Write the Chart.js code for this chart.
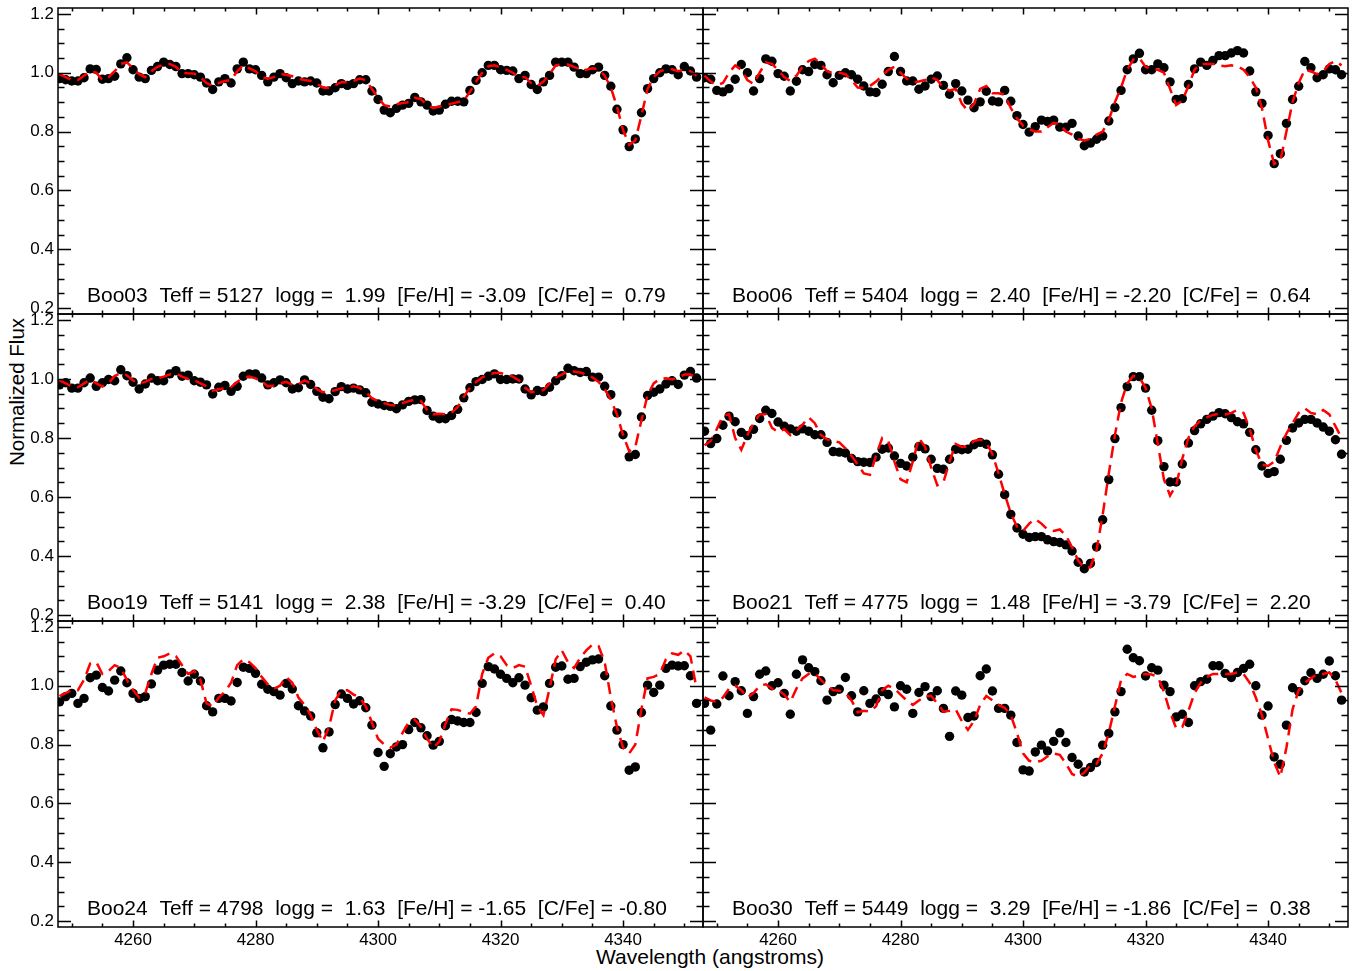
<!DOCTYPE html>
<html><head><meta charset="utf-8">
<script src="https://cdn.jsdelivr.net/npm/chart.js@4.4.1/dist/chart.umd.min.js"></script>
<style>
html,body{margin:0;padding:0;background:#fff;}
body{width:1367px;height:971px;position:relative;overflow:hidden;font-family:"Liberation Sans",Arial,sans-serif;}
canvas{position:absolute;}
#xtitle{position:absolute;left:710px;top:956px;transform:translate(-50%,-50%);font-size:21px;line-height:1;white-space:nowrap;color:#000;}
#ytitle{position:absolute;left:17px;top:392px;transform:translate(-50%,-50%) rotate(-90deg);font-size:20.5px;line-height:1;white-space:nowrap;color:#000;}
</style></head><body>
<div id="xtitle">Wavelength (angstroms)</div>
<div id="ytitle">Normalized Flux</div>
<script>
// ---------------- data ----------------
const wavelength = [
4248,4249,4250,4251,4252,4253,4254,4255,4256,4257,
4258,4259,4260,4261,4262,4263,4264,4265,4266,4267,
4268,4269,4270,4271,4272,4273,4274,4275,4276,4277,
4278,4279,4280,4281,4282,4283,4284,4285,4286,4287,
4288,4289,4290,4291,4292,4293,4294,4295,4296,4297,
4298,4299,4300,4301,4302,4303,4304,4305,4306,4307,
4308,4309,4310,4311,4312,4313,4314,4315,4316,4317,
4318,4319,4320,4321,4322,4323,4324,4325,4326,4327,
4328,4329,4330,4331,4332,4333,4334,4335,4336,4337,
4338,4339,4340,4341,4342,4343,4344,4345,4346,4347,
4348,4349,4350,4351,4352];

const xTickValues = [4260, 4280, 4300, 4320, 4340];
const xMinorTicks = [4250,4255,4260,4265,4270,4275,4280,4285,4290,4295,4300,4305,4310,4315,4320,4325,4330,4335,4340,4345,4350];
const yTickValues = [0.2, 0.4, 0.6, 0.8, 1.0, 1.2];
const yMinorTicks = [0.2,0.25,0.3,0.35,0.4,0.45,0.5,0.55,0.6,0.65,0.7,0.75,0.8,0.85,0.9,0.95,1.0,1.05,1.1,1.15,1.2];

const starNames = ["Boo03", "Boo06", "Boo19", "Boo21", "Boo24", "Boo30"];
const teffValues = [5127, 5404, 5141, 4775, 4798, 5449];
const loggValues = [1.99, 2.40, 2.38, 1.48, 1.63, 3.29];
const fehValues = [-3.09, -2.20, -3.29, -3.79, -1.65, -1.86];
const cfeValues = [0.79, 0.64, 0.40, 2.20, -0.80, 0.38];

const boo03Flux = [
0.980,0.976,0.972,0.972,0.983,1.013,1.011,0.978,0.980,0.988,
1.030,1.051,1.010,0.985,0.980,1.008,1.021,1.036,1.028,1.021,
0.997,0.997,0.993,0.985,0.965,0.943,0.969,0.980,0.965,1.013,
1.036,1.013,1.010,0.991,0.969,0.985,0.997,0.983,0.963,0.972,
0.969,0.972,0.965,0.938,0.938,0.949,0.963,0.957,0.963,0.976,
0.976,0.938,0.909,0.873,0.864,0.879,0.890,0.896,0.916,0.901,
0.890,0.870,0.873,0.893,0.903,0.903,0.901,0.940,0.974,1.000,
1.025,1.025,1.010,1.008,1.006,0.980,0.991,0.960,0.943,0.969,
0.991,1.036,1.036,1.036,1.019,0.997,0.997,1.010,1.019,0.991,
0.954,0.876,0.806,0.749,0.775,0.864,0.946,0.980,1.000,1.013,
1.010,0.993,1.021,1.006,0.985];
const boo03Model = [
0.995,0.985,0.975,0.975,0.990,1.005,1.000,0.975,0.985,1.005,
1.030,1.035,1.015,0.995,0.985,1.005,1.020,1.028,1.030,1.020,
1.000,0.998,0.997,0.985,0.965,0.955,0.965,0.972,0.975,1.005,
1.025,1.015,1.005,0.985,0.980,0.985,0.995,0.993,0.988,0.980,
0.975,0.972,0.962,0.950,0.948,0.958,0.968,0.968,0.972,0.980,
0.975,0.945,0.915,0.890,0.885,0.893,0.897,0.900,0.915,0.910,
0.890,0.880,0.885,0.890,0.895,0.900,0.905,0.935,0.970,1.000,
1.022,1.025,1.018,1.010,1.000,0.985,0.985,0.965,0.955,0.970,
0.995,1.025,1.028,1.028,1.020,1.012,1.010,1.015,1.012,0.990,
0.950,0.885,0.805,0.755,0.770,0.855,0.945,0.985,1.005,1.012,
1.012,1.005,1.010,1.005,0.990];

const boo06Flux = [
0.983,0.978,0.940,0.935,0.946,0.978,1.028,1.000,0.938,0.980,
1.047,1.039,0.997,0.988,0.938,0.971,1.010,1.004,1.028,1.025,
0.993,0.966,0.991,1.000,0.993,0.978,0.955,0.935,0.933,0.961,
1.004,1.055,1.004,0.972,0.972,0.944,0.955,0.978,0.989,0.957,
0.927,0.963,0.938,0.907,0.881,0.901,0.937,0.904,0.901,0.940,
0.903,0.854,0.824,0.798,0.817,0.839,0.834,0.839,0.815,0.815,
0.828,0.785,0.752,0.761,0.774,0.785,0.836,0.882,0.940,1.010,
1.047,1.066,1.010,1.010,1.030,1.017,0.969,0.909,0.912,0.960,
1.013,1.036,1.025,1.042,1.058,1.058,1.067,1.075,1.067,1.006,
0.935,0.896,0.787,0.691,0.725,0.828,0.909,0.954,1.038,1.017,
0.983,0.993,1.013,1.010,0.993];
const boo06Model = [
0.990,0.970,0.958,0.965,1.000,1.025,1.010,0.975,0.962,1.000,
1.035,1.030,1.010,0.985,0.972,0.990,1.020,1.040,1.048,1.030,
1.005,0.998,1.000,0.995,0.975,0.950,0.948,0.955,0.970,0.990,
1.010,1.020,1.000,0.980,0.968,0.970,0.975,0.985,0.975,0.948,
0.940,0.945,0.895,0.870,0.895,0.945,0.955,0.930,0.930,0.925,
0.880,0.845,0.820,0.808,0.800,0.800,0.815,0.830,0.825,0.800,
0.790,0.775,0.770,0.775,0.790,0.800,0.840,0.900,0.950,1.010,
1.045,1.050,1.020,1.012,1.010,1.000,0.945,0.890,0.905,0.955,
1.010,1.030,1.030,1.030,1.025,1.022,1.025,1.022,1.010,0.985,
0.950,0.880,0.770,0.690,0.700,0.800,0.900,0.965,1.010,1.005,
0.995,1.005,1.030,1.040,1.025];

const boo19Flux = [
0.980,0.987,0.969,0.969,0.987,1.003,0.975,0.987,0.998,0.994,
1.031,1.011,0.989,0.966,0.983,1.003,0.994,0.994,1.017,1.028,
1.009,1.013,0.994,0.989,0.980,0.949,0.972,0.978,0.958,0.975,
1.009,1.017,1.017,1.003,0.980,0.987,0.997,0.987,0.966,0.970,
0.997,0.981,0.958,0.938,0.933,0.957,0.974,0.966,0.969,0.963,
0.953,0.921,0.915,0.910,0.907,0.899,0.912,0.924,0.929,0.930,
0.893,0.874,0.865,0.865,0.876,0.897,0.936,0.970,0.991,0.998,
1.009,1.017,0.998,0.998,1.000,1.000,0.966,0.946,0.961,0.957,
0.972,0.994,1.011,1.036,1.028,1.022,1.025,1.006,1.006,0.975,
0.947,0.885,0.811,0.736,0.744,0.871,0.944,0.955,0.966,0.983,
0.994,0.981,1.013,1.025,1.003];
const boo19Model = [
0.995,0.985,0.975,0.972,0.985,0.998,0.985,0.975,0.985,1.010,
1.020,1.012,0.995,0.985,0.990,1.000,1.002,1.008,1.015,1.018,
1.008,1.000,0.995,0.985,0.975,0.960,0.965,0.968,0.972,0.990,
1.005,1.008,1.002,0.992,0.975,0.978,0.985,0.990,0.980,0.982,
0.995,0.985,0.965,0.955,0.958,0.962,0.968,0.970,0.975,0.970,
0.955,0.935,0.925,0.918,0.912,0.910,0.918,0.925,0.930,0.925,
0.895,0.880,0.882,0.880,0.885,0.905,0.940,0.970,0.990,1.005,
1.015,1.020,1.020,1.015,1.008,0.995,0.970,0.955,0.958,0.962,
0.985,1.005,1.015,1.025,1.025,1.022,1.015,1.005,0.990,0.965,
0.930,0.880,0.810,0.755,0.770,0.860,0.945,0.985,1.000,1.002,
0.998,1.005,1.015,1.015,1.005];

const boo21Flux = [
0.823,0.781,0.798,0.843,0.874,0.855,0.819,0.808,0.829,0.866,
0.894,0.883,0.854,0.840,0.831,0.823,0.831,0.823,0.811,0.811,
0.785,0.754,0.752,0.749,0.731,0.720,0.718,0.717,0.735,0.762,
0.766,0.739,0.714,0.705,0.735,0.771,0.763,0.728,0.697,0.694,
0.728,0.762,0.760,0.762,0.777,0.785,0.779,0.743,0.677,0.608,
0.541,0.495,0.474,0.463,0.466,0.466,0.455,0.449,0.446,0.438,
0.417,0.379,0.357,0.375,0.431,0.523,0.659,0.798,0.903,0.974,
1.008,1.008,0.969,0.894,0.791,0.703,0.651,0.651,0.712,0.783,
0.825,0.848,0.863,0.874,0.886,0.882,0.869,0.855,0.848,0.819,
0.760,0.705,0.680,0.686,0.728,0.792,0.834,0.851,0.863,0.863,
0.851,0.837,0.823,0.794,0.745];
const boo21Model = [
0.775,0.790,0.830,0.875,0.880,0.800,0.760,0.810,0.850,0.880,
0.880,0.835,0.820,0.830,0.810,0.825,0.845,0.870,0.850,0.810,
0.795,0.790,0.785,0.765,0.740,0.710,0.680,0.675,0.740,0.800,
0.790,0.720,0.660,0.650,0.720,0.800,0.770,0.700,0.640,0.650,
0.720,0.780,0.770,0.770,0.790,0.795,0.785,0.745,0.680,0.610,
0.545,0.500,0.485,0.510,0.525,0.510,0.490,0.485,0.490,0.470,
0.430,0.385,0.360,0.362,0.420,0.540,0.680,0.810,0.920,0.985,
1.010,1.005,0.970,0.900,0.780,0.660,0.605,0.640,0.730,0.800,
0.840,0.860,0.870,0.878,0.882,0.880,0.885,0.895,0.885,0.830,
0.760,0.710,0.705,0.720,0.770,0.815,0.850,0.885,0.900,0.885,
0.880,0.895,0.880,0.840,0.800];

const boo24Flux = [
0.945,0.963,0.974,0.940,0.957,1.027,1.036,0.994,0.982,1.019,
1.050,1.010,0.974,0.957,0.963,1.006,1.053,1.070,1.073,1.073,
1.045,1.016,1.039,1.016,0.932,0.911,0.957,0.957,0.948,1.011,
1.063,1.059,1.042,1.005,0.988,0.980,0.968,1.008,0.989,0.932,
0.914,0.897,0.840,0.789,0.843,0.936,0.972,0.957,0.938,0.949,
0.925,0.866,0.773,0.726,0.769,0.792,0.800,0.851,0.875,0.857,
0.830,0.798,0.811,0.864,0.885,0.880,0.875,0.875,0.909,1.008,
1.065,1.057,1.039,1.025,1.010,1.027,1.002,0.959,0.917,0.928,
1.008,1.063,1.067,1.022,1.025,1.065,1.080,1.088,1.091,1.034,
0.931,0.849,0.800,0.713,0.724,0.909,1.002,0.977,1.002,1.059,
1.070,1.067,1.068,1.034,0.940];
const boo24Model = [
0.965,0.975,0.985,0.985,1.020,1.075,1.080,1.040,1.050,1.070,
1.060,1.020,0.985,0.960,0.975,1.040,1.095,1.100,1.110,1.100,
1.070,1.040,1.050,1.020,0.940,0.930,0.960,0.980,1.010,1.070,
1.090,1.080,1.060,1.030,1.005,0.990,1.000,1.030,1.010,0.960,
0.935,0.900,0.850,0.810,0.860,0.950,0.985,0.985,0.970,0.960,
0.930,0.875,0.820,0.800,0.790,0.800,0.840,0.875,0.885,0.860,
0.820,0.790,0.810,0.870,0.920,0.918,0.910,0.905,0.930,1.040,
1.095,1.110,1.100,1.070,1.060,1.070,1.065,1.000,0.930,0.900,
0.990,1.090,1.120,1.080,1.060,1.095,1.120,1.140,1.135,1.080,
0.960,0.860,0.790,0.770,0.800,0.920,1.025,1.030,1.040,1.090,
1.110,1.105,1.120,1.100,0.990];

const boo30Flux = [
0.940,0.849,0.938,1.033,0.966,1.014,0.983,0.906,0.963,1.039,
1.050,1.000,1.010,0.974,0.903,1.039,1.088,1.061,1.048,1.017,
0.951,0.980,0.988,1.028,0.966,0.911,0.983,0.940,0.955,0.980,
0.970,0.928,1.000,0.988,0.906,0.977,0.997,0.963,0.983,0.923,
0.828,0.982,0.968,0.892,0.897,1.034,1.057,0.982,0.923,0.923,
0.900,0.807,0.714,0.710,0.775,0.798,0.778,0.811,0.840,0.807,
0.756,0.733,0.707,0.722,0.739,0.798,0.838,0.911,0.980,1.124,
1.095,1.085,1.033,1.061,1.053,1.002,0.980,0.894,0.903,0.875,
1.000,1.014,1.022,1.068,1.068,1.042,1.028,1.045,1.059,1.073,
1.000,0.900,0.931,0.758,0.733,0.866,0.993,0.980,1.017,1.044,
1.025,1.039,1.084,1.034,0.951];
const boo30Model = [
0.960,0.950,0.945,0.960,0.990,1.000,0.985,0.960,0.975,1.000,
1.005,0.990,0.985,0.970,0.945,0.990,1.025,1.040,1.042,1.020,
1.000,0.985,0.983,0.975,0.950,0.910,0.915,0.912,0.930,0.985,
1.000,0.990,0.970,0.950,0.935,0.950,0.965,0.965,0.940,0.912,
0.915,0.920,0.880,0.850,0.880,0.935,0.965,0.950,0.935,0.925,
0.900,0.840,0.770,0.745,0.740,0.745,0.760,0.770,0.765,0.735,
0.700,0.690,0.705,0.730,0.735,0.770,0.840,0.930,1.020,1.040,
1.030,1.035,1.040,1.038,1.030,0.980,0.910,0.855,0.860,0.915,
0.975,1.010,1.030,1.040,1.040,1.040,1.040,1.045,1.040,1.010,
0.960,0.900,0.820,0.740,0.690,0.790,0.920,0.985,1.010,1.025,
1.040,1.040,1.045,1.020,0.975];

const fluxSeries = [boo03Flux, boo06Flux, boo19Flux, boo21Flux, boo24Flux, boo30Flux];
const modelSeries = [boo03Model, boo06Model, boo19Model, boo21Model, boo24Model, boo30Model];

// ---------------- layout ----------------
const FONT = '"Liberation Sans", Arial, Helvetica, sans-serif';
const X_MIN = 4247.75, X_MAX = 4353.05;
const Y_MIN = 0.18, Y_MAX = 1.22;
const colEdges = [58, 703, 1348];
const rowEdges = [8, 314, 621, 927];
const M = {l: 50, r: 12, t: 24, b: 40};

function fmt(v) { return (v < 0 ? '-' : ' ') + Math.abs(v).toFixed(2); }
function panelLabel(i) {
  return starNames[i] + '  Teff = ' + teffValues[i] + '  logg = ' + fmt(loggValues[i]) +
    '  [Fe/H] = ' + fmt(fehValues[i]).trim().padStart(5, ' ') + '  [C/Fe] = ' + fmt(cfeValues[i]);
}

const framePlugin = {
  id: 'frame',
  afterDatasetsDraw(chart) {
    const {ctx, chartArea: a, scales: {x, y}} = chart;
    ctx.save();
    ctx.strokeStyle = '#000';
    ctx.lineWidth = 1.5;
    ctx.strokeRect(a.left, a.top, a.right - a.left, a.bottom - a.top);
    ctx.beginPath();
    for (const v of xMinorTicks) {
      const len = xTickValues.includes(v) ? 6.5 : 3.5;
      const px = Math.round(x.getPixelForValue(v)) + 0.5;
      ctx.moveTo(px, a.bottom); ctx.lineTo(px, a.bottom - len);
      ctx.moveTo(px, a.top); ctx.lineTo(px, a.top + len);
    }
    for (const v of yMinorTicks) {
      const major = yTickValues.some(t => Math.abs(t - v) < 1e-6);
      const len = major ? 13 : 6.5;
      const py = Math.round(y.getPixelForValue(v)) + 0.5;
      ctx.moveTo(a.left, py); ctx.lineTo(a.left + len, py);
      ctx.moveTo(a.right, py); ctx.lineTo(a.right - len, py);
    }
    ctx.stroke();
    ctx.fillStyle = '#000';
    ctx.font = '21px ' + FONT;
    ctx.textAlign = 'left';
    ctx.textBaseline = 'alphabetic';
    ctx.fillText(chart.options.plugins.frame.label, a.left + 29, a.bottom - 12);
    ctx.restore();
  }
};

for (let i = 0; i < 6; i++) {
  const col = i % 2, row = Math.floor(i / 2);
  const left = colEdges[col], right = colEdges[col + 1];
  const top = rowEdges[row], bottom = rowEdges[row + 1];
  const w = right - left, h = bottom - top;
  const cv = document.createElement('canvas');
  cv.width = w + M.l + M.r; cv.height = h + M.t + M.b;
  cv.style.left = (left - M.l) + 'px'; cv.style.top = (top - M.t) + 'px';
  cv.style.width = cv.width + 'px'; cv.style.height = cv.height + 'px';
  document.body.appendChild(cv);

  new Chart(cv, {
    data: {
      datasets: [
        {
          type: 'line',
          data: modelSeries[i].map((v, k) => ({x: wavelength[k], y: v})),
          borderColor: '#ff0000', borderWidth: 2.5, borderDash: [12, 7],
          pointRadius: 0, fill: false, tension: 0, order: 0
        },
        {
          type: 'scatter',
          data: fluxSeries[i].map((v, k) => ({x: wavelength[k], y: v})),
          pointRadius: 4.7, pointBackgroundColor: '#000', pointBorderColor: '#000',
          pointBorderWidth: 0, showLine: false, order: 1
        }
      ]
    },
    options: {
      responsive: false, animation: false, devicePixelRatio: 1,
      layout: {padding: {top: M.t, right: M.r, left: 0, bottom: 0}},
      plugins: {legend: {display: false}, tooltip: {enabled: false}, frame: {label: panelLabel(i)}},
      scales: {
        x: {
          type: 'linear', position: 'bottom', min: X_MIN, max: X_MAX,
          grid: {display: false, drawTicks: false}, border: {display: false},
          ticks: {
            display: row === 2, stepSize: 20, includeBounds: false, autoSkip: false, maxRotation: 0,
            padding: 3, color: '#000', font: {size: 17, family: FONT},
            callback: v => xTickValues.includes(v) ? String(v) : ''
          },
          afterFit: s => { s.height = M.b; }
        },
        y: {
          type: 'linear', position: 'left', min: Y_MIN, max: Y_MAX,
          grid: {display: false, drawTicks: false}, border: {display: false},
          ticks: {
            display: col === 0, stepSize: 0.2, includeBounds: false, autoSkip: false,
            padding: 4, color: '#000', font: {size: 17, family: FONT},
            callback: v => v.toFixed(1)
          },
          afterFit: s => { s.width = M.l; }
        }
      }
    },
    plugins: [framePlugin]
  });
}
</script>
</body></html>
